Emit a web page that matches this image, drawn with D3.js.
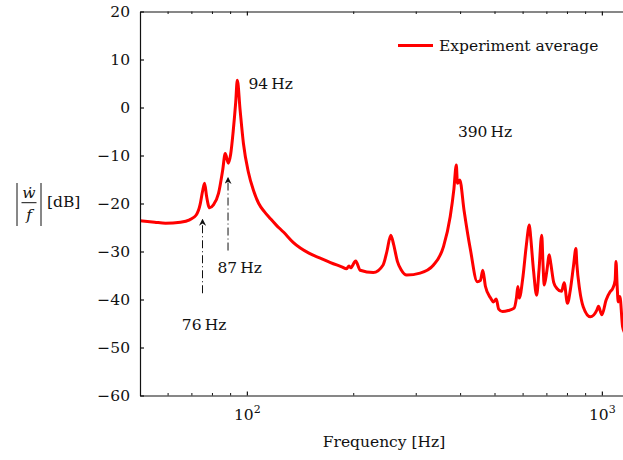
<!DOCTYPE html>
<html>
<head>
<meta charset="utf-8">
<script src="https://cdn.jsdelivr.net/npm/d3@7"></script>
<style>
  body { margin: 0; background: #fff; }
  svg { display: block; }
  text { font-family: "DejaVu Serif", serif; fill: #111; }
</style>
</head>
<body>
<svg id="chart" width="623" height="460"></svg>
<script>
// frequency response
const freqHz = [50, 55, 59, 65, 69, 72, 73.8, 75, 76, 77, 78.5, 80.5, 83.2, 85.5, 86.9, 88.7, 90, 91.5, 93, 94,
  95.7, 97.8, 101, 104.4, 108, 112, 116, 121, 127, 135, 150, 161, 172, 185, 191, 194, 196, 202.6, 208.6, 227, 242, 248,
  254.3, 259, 265.6, 272, 282, 307.6, 335.6, 358, 374, 383, 389, 392, 397.9, 409, 426.5, 445.7, 455, 462, 470, 486,
  495, 504, 512, 525, 545, 566, 575, 580, 585, 600, 612, 625, 630, 642, 655, 665, 677, 683, 688, 700,
  711, 718, 732, 747, 770, 783, 800, 815, 832, 845, 850, 866, 886, 928, 968, 978, 1000, 1028, 1055, 1073,
  1090, 1096, 1104, 1112, 1124, 1144, 1160];
const levelDb = [-23.6, -23.9, -24.1, -23.9, -23.4, -22.4, -20.3, -17.5, -15.8, -18.5, -20.9, -20.3, -17.9, -13, -9.6, -11.6, -9.8, -5, 1, 5.7,
  -0.5, -7.5, -13.5, -17.3, -20.0, -21.7, -23, -24.5, -26, -28.1, -30.4, -31.4, -32.3, -33.2, -33.6, -33.0, -33.4, -32.0, -33.9, -34.4, -32.8, -30,
  -26.6, -28.5, -32.1, -33.8, -34.9, -34.5, -32.8, -29, -22.7, -17, -12, -15.8, -15.1, -21.4, -29.7, -36.3, -36, -33.9, -37.3, -39.7,
  -40.5, -39.9, -42, -42.5, -42.3, -41.8, -39.5, -37.3, -39.7, -35, -29, -24.5, -26.9, -34, -39.1, -34, -26.6, -33, -37, -34,
  -30.7, -32.5, -36.5, -37.7, -38.3, -36.5, -40.8, -38, -33, -29.4, -32.5, -38, -41.5, -43.6, -42.2, -41.4, -43.2, -40.1, -38.4, -37.7,
  -36, -32.1, -37, -40.5, -39.4, -45.7, -47];

const yTicks = [20, 10, 0, -10, -20, -30, -40, -50, -60];
const xMajor = [100, 1000];
const xMinor = [60, 70, 80, 90, 200, 300, 400, 500, 600, 700, 800, 900];

// peak annotations
const peakLabels = [
  { text: '94 Hz', f: 101, db: 3.9 },
  { text: '390 Hz', f: 393, db: -6.1 },
  { text: '87 Hz', f: 82.6, db: -34.5 },
  { text: '76 Hz', f: 65.6, db: -46.4 }
];
const peakArrows = [
  { f: 75, from: -38.7, to: -23.3 },
  { f: 88.5, from: -29.8, to: -14.6 }
];

const FS = 15.5;
const svg = d3.select('#chart');
const plotLeft = 140, plotTop = 11.5, plotBottom = 395.5;
const x = d3.scaleLog().domain([50, 1200]).range([plotLeft, plotLeft + 355 * Math.log10(24)]);
const y = d3.scaleLinear().domain([-60, 20]).range([plotBottom, plotTop]);

const defs = svg.append('defs');
defs.append('clipPath').attr('id', 'plot')
  .append('rect').attr('x', plotLeft).attr('y', plotTop).attr('width', 623 - plotLeft).attr('height', plotBottom - plotTop);
defs.append('marker')
  .attr('id', 'head').attr('viewBox', '0 0 10 10').attr('refX', 9).attr('refY', 5)
  .attr('markerWidth', 7).attr('markerHeight', 7).attr('orient', 'auto')
  .attr('markerUnits', 'userSpaceOnUse')
  .append('path').attr('d', 'M0,0 L10,5 L0,10 L3,5 Z').attr('fill', '#111');

// curve
const pts = freqHz.map((f, i) => [f, levelDb[i]]);
svg.append('path')
  .datum(pts)
  .attr('clip-path', 'url(#plot)')
  .attr('fill', 'none')
  .attr('stroke', '#ff0000')
  .attr('stroke-width', 3)
  .attr('stroke-linejoin', 'round')
  .attr('d', d3.line().x(d => x(d[0])).y(d => y(d[1])).curve(d3.curveMonotoneX));

// arrows (dash-dot)
svg.selectAll('.arrow').data(peakArrows).join('line')
  .attr('class', 'arrow')
  .attr('x1', d => x(d.f)).attr('x2', d => x(d.f))
  .attr('y1', d => y(d.from)).attr('y2', d => y(d.to))
  .attr('stroke', '#111').attr('stroke-width', 1)
  .attr('stroke-dasharray', '8,3,1,3')
  .attr('marker-end', 'url(#head)');

svg.selectAll('.peak').data(peakLabels).join('text')
  .attr('class', 'peak')
  .attr('x', d => x(d.f)).attr('y', d => y(d.db))
  .attr('font-size', FS)
  .text(d => d.text.replace(' ', '\u2009'));

// left axis
const yAxis = svg.append('g').attr('transform', `translate(${plotLeft},0)`)
  .call(d3.axisLeft(y).tickValues(yTicks).tickSizeInner(-4).tickSizeOuter(0).tickPadding(10)
    .tickFormat(d => d < 0 ? '\u2212' + Math.abs(d) : d));
yAxis.selectAll('text').attr('font-size', FS).attr('fill', '#111');
yAxis.selectAll('line, path').attr('stroke', '#111').attr('stroke-width', 1.2);

// bottom axis
const xAxis = svg.append('g').attr('transform', `translate(0,${plotBottom})`)
  .call(d3.axisBottom(x).tickValues(xMajor).tickSizeInner(-4).tickSizeOuter(0).tickFormat(''));
xAxis.selectAll('line, path').attr('stroke', '#111').attr('stroke-width', 1.2);
xAxis.selectAll('.tick text').remove();
xAxis.selectAll('.tick').append('text')
  .attr('y', 24).attr('text-anchor', 'middle').attr('font-size', FS).attr('fill', '#111')
  .each(function (d) {
    const t = d3.select(this);
    t.append('tspan').text('10');
    t.append('tspan').attr('dy', -7).attr('font-size', 11).text(Math.round(Math.log10(d)));
  });
xAxis.selectAll('.minor').data(xMinor).join('line')
  .attr('class', 'minor')
  .attr('x1', d => x(d)).attr('x2', d => x(d)).attr('y1', 0).attr('y2', -2.5)
  .attr('stroke', '#111').attr('stroke-width', 1);

// top axis
const topAxis = svg.append('g').attr('transform', `translate(0,${plotTop})`)
  .call(d3.axisTop(x).tickValues(xMajor).tickSizeInner(-4).tickSizeOuter(0).tickFormat(''));
topAxis.selectAll('line, path').attr('stroke', '#111').attr('stroke-width', 1.2);
topAxis.selectAll('.minor').data(xMinor).join('line')
  .attr('class', 'minor')
  .attr('x1', d => x(d)).attr('x2', d => x(d)).attr('y1', 0).attr('y2', 2.5)
  .attr('stroke', '#111').attr('stroke-width', 1);

// x label
svg.append('text').attr('x', 384).attr('y', 447).attr('text-anchor', 'middle')
  .attr('font-size', FS).text('Frequency [Hz]');

// y label |w_dot / f| [dB]
const yl = svg.append('g');
yl.append('line').attr('x1', 17).attr('x2', 17).attr('y1', 183).attr('y2', 226).attr('stroke', '#111').attr('stroke-width', 1);
yl.append('line').attr('x1', 41).attr('x2', 41).attr('y1', 183).attr('y2', 226).attr('stroke', '#111').attr('stroke-width', 1);
yl.append('line').attr('x1', 21.5).attr('x2', 36.5).attr('y1', 202.7).attr('y2', 202.7).attr('stroke', '#111').attr('stroke-width', 1);
yl.append('text').attr('x', 29).attr('y', 198).attr('text-anchor', 'middle').attr('font-size', FS)
  .attr('font-style', 'italic').text('\u1E87');
yl.append('text').attr('x', 29).attr('y', 220).attr('text-anchor', 'middle').attr('font-size', FS)
  .attr('font-style', 'italic').text('f');
yl.append('text').attr('x', 47).attr('y', 207).attr('font-size', FS).text('[dB]');

// legend
svg.append('line').attr('x1', 398).attr('x2', 433).attr('y1', 45.5).attr('y2', 45.5)
  .attr('stroke', '#ff0000').attr('stroke-width', 3);
svg.append('text').attr('x', 439).attr('y', 51).attr('font-size', FS).text('Experiment average');
</script>
</body>
</html>
